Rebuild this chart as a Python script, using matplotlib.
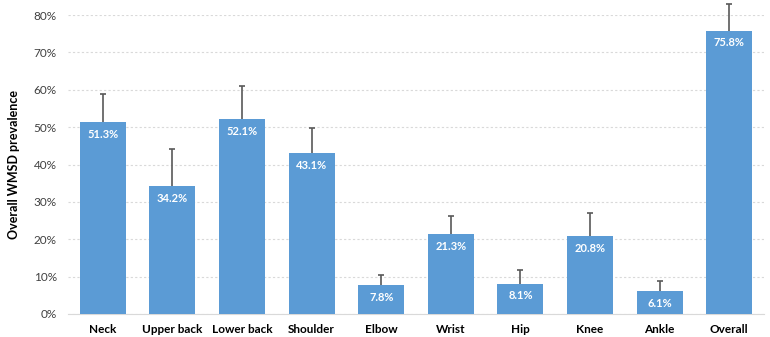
import numpy as np
import matplotlib.pyplot as plt
from matplotlib.ticker import PercentFormatter

plt.rcParams['font.family'] = ['Lato', 'DejaVu Sans']

# Data
regions = ['Neck', 'Upper back', 'Lower back', 'Shoulder', 'Elbow',
           'Wrist', 'Hip', 'Knee', 'Ankle', 'Overall']
prevalence = [51.3, 34.2, 52.1, 43.1, 7.8, 21.3, 8.1, 20.8, 6.1, 75.8]
upper_ci = [58.9, 44.1, 61.1, 49.7, 10.5, 26.3, 11.9, 26.9, 8.9, 83.0]

err_plus = [u - p for u, p in zip(upper_ci, prevalence)]
x = np.arange(len(regions))

fig = plt.figure(figsize=(7.7, 3.37), dpi=100)
ax = fig.add_axes([68 / 770, 23 / 337, (764 - 68) / 770, (314 - 15) / 337])

ax.bar(x, prevalence, width=0.66, color='#5B9BD5', zorder=3)
eb = ax.errorbar(x, prevalence, yerr=[np.zeros(len(x)), err_plus], fmt='none',
                 ecolor='#595959', elinewidth=1.2, capsize=2.5, capthick=1.2,
                 zorder=4)
# only the "plus" side gets a cap
caps = eb[1]
caps[0].set_visible(False)
for c in caps:
    c.set_clip_on(False)
for b in eb[2]:
    b.set_clip_on(False)

for xi, v in zip(x, prevalence):
    ax.text(xi, v - 1.8, f'{v:.1f}%', ha='center', va='top', color='white',
            fontsize=8, fontweight='bold', zorder=5)

ax.set_xlim(-0.5, len(x) - 0.5)
ax.set_ylim(0, 80)
ax.set_yticks(np.arange(0, 81, 10))
ax.yaxis.set_major_formatter(PercentFormatter(decimals=0))
ax.set_xticks(x)
ax.set_xticklabels(regions, fontsize=8.5, fontweight='bold', color='black')
ax.tick_params(axis='y', labelsize=8.5, labelcolor='#404040', length=0, pad=8)
ax.tick_params(axis='x', length=0, pad=7)

ax.grid(axis='y', color='#D9D9D9', linestyle=(0, (2, 2)), linewidth=0.8, zorder=0)
for s in ['top', 'right', 'left']:
    ax.spines[s].set_visible(False)
ax.spines['bottom'].set_color('#D9D9D9')

ax.set_ylabel('Overall WMSD prevalence', fontsize=9, fontweight='bold', labelpad=10)

plt.savefig('out.png', dpi=100)
plt.close()
